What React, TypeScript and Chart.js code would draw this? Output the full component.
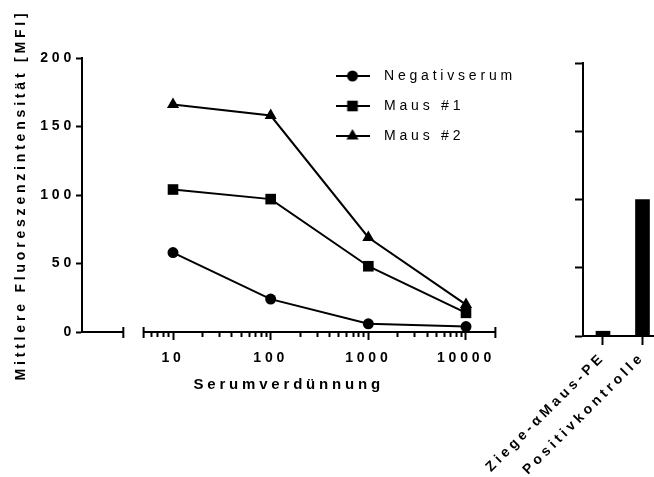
import React, { useEffect, useRef } from 'react';
import { Chart, registerables } from 'chart.js';
import { drawPoint } from 'chart.js/helpers';

Chart.register(...registerables);

// ---------- data ----------
const dilutions = [10, 100, 1000, 10000];
const negativserum = [58, 24, 6, 4];
const maus1 = [104, 97, 48, 14];
const maus2 = [166, 158, 69, 20];
const seriesNames = ['Negativserum', 'Maus #1', 'Maus #2'];
const seriesValues = [negativserum, maus1, maus2];
const markerStyles = ['circle', 'rect', 'triangle'];
const markerRadii = [5.5, 7.5, 7];

const yMin = 0;
const yMax = 200;
const yStep = 50;

const xMajorTicks = [10, 100, 1000, 10000];
const xMinorMultipliers = [2, 3, 4, 5, 6, 7, 8, 9];
const xLowMinorTicks = [6, 7, 8, 9];
const xAxisMin = 1.17;
const xAxisMax = 20000;
const xBreakEnd = 3.1;
const xSegmentStart = 5;

const barCategories = ['Ziege-\u03b1Maus-PE', 'Positivkontrolle'];
const barValues = [3.5, 100];

const xTitle = 'Serumverdünnung';
const yTitle = 'Mittlere Fluoreszenzintensität [MFI]';

// ---------- helpers ----------
const FAMILY = '"Liberation Sans", Arial, Helvetica, sans-serif';
const BLACK = '#000000';
const SPACING = '3.8px';

const xTickValues: number[] = [
  ...xLowMinorTicks,
  ...xMajorTicks.flatMap((d, i) =>
    i < xMajorTicks.length - 1 ? [d, ...xMinorMultipliers.map((m) => m * d)] : [d]
  ),
];

const spacingPlugin = {
  id: 'letterSpacing',
  beforeUpdate(chart: any) {
    chart.ctx.letterSpacing = SPACING;
  },
  beforeLayout(chart: any) {
    chart.ctx.letterSpacing = SPACING;
  },
  beforeDraw(chart: any) {
    chart.ctx.letterSpacing = SPACING;
  },
};

function makeLegendIcon(style: string, radius: number) {
  const c = document.createElement('canvas');
  c.width = 34;
  c.height = 18;
  const ctx = c.getContext('2d')!;
  ctx.strokeStyle = BLACK;
  ctx.fillStyle = BLACK;
  ctx.lineWidth = 2;
  ctx.beginPath();
  ctx.moveTo(0, 9);
  ctx.lineTo(34, 9);
  ctx.stroke();
  drawPoint(ctx, { pointStyle: style as any, radius, rotation: 0, borderWidth: 0 } as any, 17, 9);
  return c;
}

export default function App() {
  const leftRef = useRef<HTMLCanvasElement>(null);
  const rightRef = useRef<HTMLCanvasElement>(null);

  useEffect(() => {
    const icons = markerStyles.map((s, i) => makeLegendIcon(s, markerRadii[i]));

    const axisBreak = {
      id: 'axisBreak',
      beforeDatasetsDraw(chart: any) {
        const { ctx, chartArea } = chart;
        const xs = chart.scales.x;
        const y = chartArea.bottom;
        const a0 = chartArea.left - 1;
        const a1 = xs.getPixelForValue(xBreakEnd);
        const b0 = xs.getPixelForValue(xSegmentStart);
        const b1 = xs.getPixelForValue(xAxisMax);
        ctx.save();
        ctx.strokeStyle = BLACK;
        ctx.lineWidth = 2;
        ctx.beginPath();
        ctx.moveTo(a0, y);
        ctx.lineTo(a1, y);
        ctx.moveTo(b0, y);
        ctx.lineTo(b1, y);
        [a1, b0, b1].forEach((px) => {
          ctx.moveTo(px, y - 5);
          ctx.lineTo(px, y + 6);
        });
        ctx.stroke();
        ctx.restore();
      },
    };

    const legendPlacer = {
      id: 'legendPlacer',
      afterLayout(chart: any) {
        const lg = chart.legend;
        if (!lg) return;
        lg.left = 312;
        lg.top = 53;
        lg.right = 654;
        lg.bottom = 477;
        lg.width = lg.right - lg.left;
        lg.height = lg.bottom - lg.top;
      },
    };

    const left = new Chart(leftRef.current!, {
      type: 'line',
      data: {
        datasets: seriesValues.map((vals, i) => ({
          label: seriesNames[i],
          data: dilutions.map((x, j) => ({ x, y: vals[j] })),
          borderColor: BLACK,
          backgroundColor: BLACK,
          borderWidth: 2,
          pointStyle: markerStyles[i] as any,
          pointRadius: markerRadii[i],
          pointBorderWidth: 0,
          pointBackgroundColor: BLACK,
          tension: 0,
          clip: false as any,
        })),
      },
      options: {
        responsive: false,
        animation: false,
        devicePixelRatio: 1,
        layout: { padding: { left: 0, top: 58, right: 158.6, bottom: 83 } },
        plugins: {
          tooltip: { enabled: false },
          legend: {
            position: 'chartArea' as any,
            align: 'start',
            labels: {
              usePointStyle: true,
              pointStyleWidth: 49,
              boxHeight: 14,
              padding: 16,
              color: BLACK,
              font: { family: FAMILY, size: 14 },
              generateLabels: () =>
                seriesNames.map((name, i) => ({
                  text: name,
                  pointStyle: icons[i] as any,
                  fillStyle: BLACK,
                  strokeStyle: BLACK,
                  fontColor: BLACK,
                  lineWidth: 0,
                  hidden: false,
                  datasetIndex: i,
                })),
            },
          },
        },
        scales: {
          x: {
            type: 'logarithmic',
            min: xAxisMin,
            max: xAxisMax,
            bounds: 'data',
            afterBuildTicks: (s: any) => {
              s.ticks = xTickValues.map((v) => ({ value: v, major: xMajorTicks.includes(v) }));
            },
            afterFit: (s: any) => {
              s.height = 62;
            },
            ticks: {
              autoSkip: false,
              maxRotation: 0,
              minRotation: 0,
              padding: 10,
              color: BLACK,
              font: { family: FAMILY, size: 14, weight: 'bold' },
              callback: (v: any) => (xMajorTicks.includes(Number(v)) ? String(v) : ''),
            },
            grid: {
              display: true,
              drawOnChartArea: false,
              drawTicks: true,
              tickLength: 8,
              tickWidth: 2,
              tickColor: BLACK,
              tickBorderDash: (ctx: any) =>
                ctx.tick && xMajorTicks.includes(ctx.tick.value) ? [] : [5, 50],
            } as any,
            border: { display: false },
            title: {
              display: true,
              text: xTitle,
              color: BLACK,
              font: { family: FAMILY, size: 15, weight: 'bold' },
              padding: 0,
            },
          },
          y: {
            type: 'linear',
            min: yMin,
            max: yMax,
            afterFit: (s: any) => {
              s.width = 82;
            },
            ticks: {
              stepSize: yStep,
              padding: 1,
              color: BLACK,
              font: { family: FAMILY, size: 14, weight: 'bold' },
            },
            grid: {
              display: true,
              drawOnChartArea: false,
              tickLength: 6,
              tickWidth: 2,
              tickColor: BLACK,
            },
            border: { display: true, color: BLACK, width: 2 },
            title: {
              display: true,
              text: yTitle,
              color: BLACK,
              font: { family: FAMILY, size: 14, weight: 'bold' },
              padding: { top: 13, bottom: 0 },
            },
          },
        },
      } as any,
      plugins: [spacingPlugin, axisBreak, legendPlacer],
    });

    const right = new Chart(rightRef.current!, {
      type: 'bar',
      data: {
        datasets: [
          {
            data: barValues.map((v, i) => ({ x: i + 1, y: v })),
            backgroundColor: BLACK,
            borderWidth: 0,
            barThickness: 14,
          },
        ],
      },
      options: {
        responsive: false,
        animation: false,
        devicePixelRatio: 1,
        layout: { padding: { left: 575, top: 63, right: 1, bottom: 0 } },
        plugins: { legend: { display: false }, tooltip: { enabled: false } },
        scales: {
          x: {
            type: 'linear',
            min: 0.494,
            max: 2.266,
            offset: false,
            afterBuildTicks: (s: any) => {
              s.ticks = barCategories.map((_, i) => ({ value: i + 1 }));
            },
            afterFit: (s: any) => {
              s.height = 141;
              s.paddingLeft = 0;
              s.paddingRight = 0;
            },
            ticks: {
              autoSkip: false,
              maxRotation: 45,
              minRotation: 45,
              padding: 4,
              color: BLACK,
              font: { family: FAMILY, size: 14, weight: 'bold' },
              callback: (v: any) => barCategories[Math.round(Number(v)) - 1] ?? '',
            },
            grid: {
              display: true,
              offset: false,
              drawOnChartArea: false,
              tickLength: 9,
              tickWidth: 2,
              tickColor: BLACK,
            },
            border: { display: true, color: BLACK, width: 2 },
          },
          y: {
            type: 'linear',
            min: yMin,
            max: yMax,
            afterFit: (s: any) => {
              s.width = 8;
              s.paddingTop = 0;
              s.paddingBottom = 0;
            },
            ticks: { stepSize: yStep, display: false },
            grid: {
              display: true,
              drawOnChartArea: false,
              tickLength: 8,
              tickWidth: 2,
              tickColor: BLACK,
            },
            border: { display: true, color: BLACK, width: 2 },
          },
        },
      } as any,
      plugins: [spacingPlugin],
    });

    return () => {
      left.destroy();
      right.destroy();
    };
  }, []);

  return (
    <div style={{ position: 'absolute', left: 0, top: 0, width: 654, height: 477, background: '#ffffff' }}>
      <canvas ref={leftRef} width={654} height={477} style={{ position: 'absolute', left: 0, top: 0 }} />
      <canvas ref={rightRef} width={654} height={477} style={{ position: 'absolute', left: 0, top: 0 }} />
    </div>
  );
}
